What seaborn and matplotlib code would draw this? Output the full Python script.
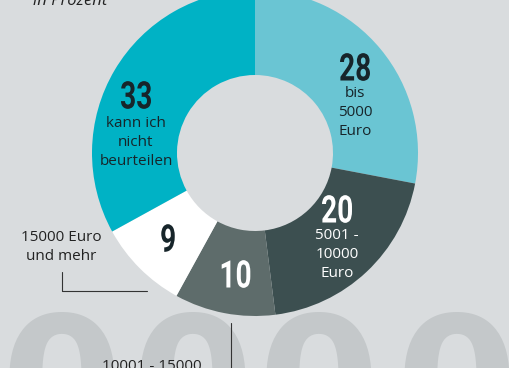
import matplotlib
matplotlib.use("Agg")
import matplotlib.pyplot as plt
import seaborn as sns
from matplotlib.textpath import TextPath
from matplotlib.patches import PathPatch
from matplotlib.font_manager import FontProperties
from matplotlib.transforms import Affine2D

# --- data ---
categories = ["bis\n5000\nEuro", "5001 -\n10000\nEuro", "10001 - 15000\nEuro",
              "15000 Euro\nund mehr", "kann ich\nnicht\nbeurteilen"]
shares = [28, 20, 10, 9, 33]
unit_note = "in Prozent"
bg_digits = ["0", "0", "0", "0"]

BG = "#d9dcde"
palette = sns.color_palette(["#6ac5d3", "#3c4f50", "#5e6c6b", "#ffffff", "#00b2c5"])
num_colors = ["#17252a", "white", "white", "#17252a", "#17252a"]
lab_colors = ["#17252a", "white", None, None, "#17252a"]

sns.set_theme(style="white", rc={"figure.facecolor": BG, "axes.facecolor": BG})
plt.rcParams["font.family"] = ["Open Sans", "DejaVu Sans"]

W, H = 510, 368
LS = 1.36
fig = plt.figure(figsize=(W / 100, H / 100), dpi=100)
ax = fig.add_axes([0, 0, 1, 1])


def condensed_text(ax, x, y, s, size, color, squeeze=0.74):
    # no condensed font installed, so squeeze a bold glyph outline
    tp = TextPath((0, 0), s, size=size,
                  prop=FontProperties(family="Roboto", weight="bold"))
    ext = tp.get_extents()
    tr = (Affine2D().translate(-(ext.x0 + ext.x1) / 2, -(ext.y0 + ext.y1) / 2)
          .scale(squeeze, 1).translate(x, y))
    ax.add_patch(PathPatch(tr.transform_path(tp), facecolor=color,
                           edgecolor="none", zorder=4))


# big pale digits in the background
for x, d in zip([62, 193, 319, 457], bg_digits):
    ax.text(x, H - 442, d, ha="center", va="baseline", fontsize=126,
            fontweight="bold", family="DejaVu Sans", color="#c4c8ca", zorder=0)

# donut
cx, cy = 255, H - 153
ax.pie(shares, colors=palette, startangle=90, counterclock=False,
       radius=163, center=(cx, cy),
       wedgeprops=dict(width=85, linewidth=0))

# value numbers (pixel positions, y from top)
num_pos = [(355, 67), (337, 209), (236, 274), (168, 238), (136, 95)]
for (x, y), v, c in zip(num_pos, shares, num_colors):
    condensed_text(ax, x, H - y, str(v), 38, c)

# labels inside the ring
lab_pos = [(355, 86), (337, 228), None, None, (136, 116)]
for pos, lab, c in zip(lab_pos, categories, lab_colors):
    if pos is None:
        continue
    ax.text(pos[0], H - pos[1], lab, ha="center", va="top", fontsize=11,
            linespacing=LS, color=c)

# outside labels with leader lines
ax.text(61, H - 230, categories[3], ha="center", va="top", fontsize=11,
        linespacing=LS, color="#222222")
ax.plot([62, 62, 147], [H - 272, H - 291, H - 291], color="#333333", lw=0.8)
ax.text(152, H - 359, categories[2], ha="center", va="top", fontsize=11,
        linespacing=LS, color="#222222")
ax.plot([231, 231], [H - 323, -5], color="#333333", lw=0.8)

ax.text(33, H - 5, unit_note, ha="left", va="baseline", fontsize=12,
        style="italic", color="#222222")

ax.set_xlim(0, W)
ax.set_ylim(0, H)
ax.set_aspect("equal")
ax.axis("off")

fig.savefig("out.png", dpi=100, facecolor=BG)
